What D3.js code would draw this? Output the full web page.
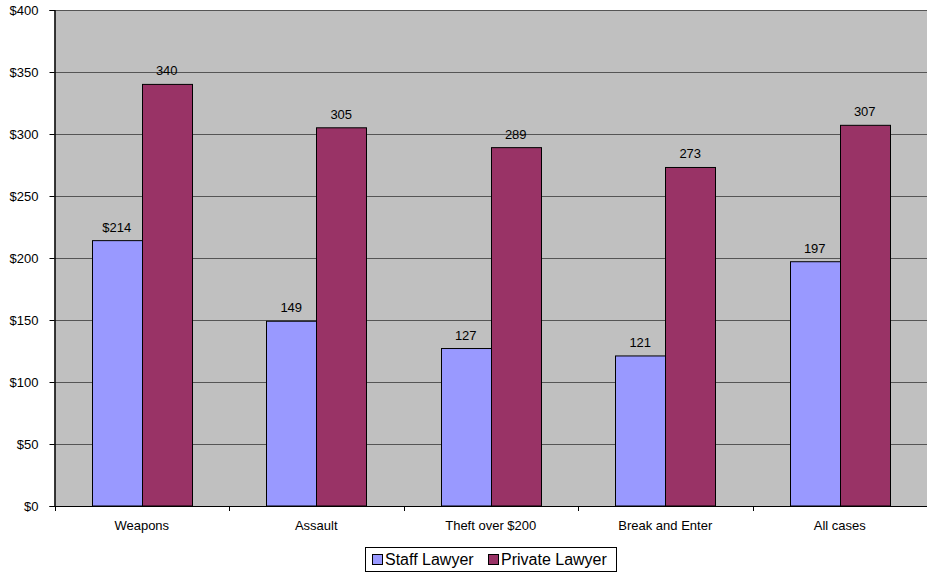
<!DOCTYPE html>
<html>
<head>
<meta charset="utf-8">
<script src="https://cdn.jsdelivr.net/npm/d3@7"></script>
<style>
  html, body { margin: 0; padding: 0; background: #fff; }
  svg { display: block; font-family: "Liberation Sans", Arial, sans-serif; }
</style>
</head>
<body>
<svg id="chart" width="927" height="573"></svg>
<script>
// Average cost per case by offence type
const categories = ["Weapons", "Assault", "Theft over $200", "Break and Enter", "All cases"];
const staffLawyer = [214, 149, 127, 121, 197];
const privateLawyer = [340, 305, 289, 273, 307];
const staffLabels = ["$214", "149", "127", "121", "197"];
const privateLabels = ["340", "305", "289", "273", "307"];
const yTicks = [0, 50, 100, 150, 200, 250, 300, 350, 400];
const seriesNames = ["Staff Lawyer", "Private Lawyer"];
const seriesColors = ["#9999ff", "#993366"];

const svg = d3.select("#chart");
const plot = { left: 54.5, right: 927, top: 10, bottom: 506 };

const x = d3.scaleBand().domain(categories).range([plot.left, plot.right]).paddingInner(0).paddingOuter(0);
const y = d3.scaleLinear().domain([0, 400]).range([plot.bottom, plot.top]);
const barW = 50;

// plot background
svg.append("rect")
  .attr("x", plot.left).attr("y", plot.top)
  .attr("width", plot.right - plot.left).attr("height", plot.bottom - plot.top)
  .attr("fill", "#c0c0c0");

// gridlines
svg.append("g").selectAll("line").data(yTicks.filter(d => d > 0)).join("line")
  .attr("x1", plot.left).attr("x2", plot.right)
  .attr("y1", d => Math.round(y(d)) + 0.5).attr("y2", d => Math.round(y(d)) + 0.5)
  .attr("stroke", "#555").attr("stroke-width", 1);

// y axis
const yAxis = d3.axisLeft(y).tickValues(yTicks).tickFormat(d => "$" + d).tickSizeOuter(0).tickSize(5).tickPadding(11);
const gy = svg.append("g").attr("transform", `translate(${plot.left},0)`).call(yAxis);
gy.select(".domain").attr("stroke", "#000");
gy.selectAll(".tick line").attr("stroke", "#000");
gy.selectAll(".tick text").attr("font-size", 13).attr("fill", "#000")
  .attr("font-family", "Liberation Sans, Arial, sans-serif");

// bars
const groups = categories.map((c, i) => ({ c, s: staffLawyer[i], p: privateLawyer[i], sl: staffLabels[i], pl: privateLabels[i] }));
const g = svg.append("g");
groups.forEach(d => {
  const cx = x(d.c) + x.bandwidth() / 2;
  const bars = [
    { v: d.s, lab: d.sl, x0: cx - barW, color: seriesColors[0] },
    { v: d.p, lab: d.pl, x0: cx, color: seriesColors[1] }
  ];
  bars.forEach(b => {
    g.append("rect")
      .attr("x", Math.round(b.x0) + 0.5).attr("y", y(b.v))
      .attr("width", barW).attr("height", plot.bottom - y(b.v))
      .attr("fill", b.color).attr("stroke", "#000").attr("stroke-width", 1);
    g.append("text")
      .attr("x", b.x0 + barW / 2).attr("y", y(b.v) - 9)
      .attr("text-anchor", "middle").attr("font-size", 13).attr("fill", "#000")
      .text(b.lab);
  });
});

// x axis
const xAxis = d3.axisBottom(x).tickSize(0).tickPadding(15);
const gx = svg.append("g").attr("transform", `translate(0,${plot.bottom})`).call(xAxis);
gx.select(".domain").remove();
gx.selectAll(".tick text").attr("font-size", 13).attr("fill", "#000")
  .attr("font-family", "Liberation Sans, Arial, sans-serif");
svg.append("line").attr("x1", plot.left).attr("x2", plot.right)
  .attr("y1", plot.bottom + 0.5).attr("y2", plot.bottom + 0.5).attr("stroke", "#000");
svg.append("line").attr("x1", plot.left + 0.5).attr("x2", plot.left + 0.5)
  .attr("y1", plot.top).attr("y2", plot.bottom).attr("stroke", "#000");
// category separator ticks
const sepX = categories.map(c => x(c)).concat([plot.right]);
svg.append("g").selectAll("line").data(sepX).join("line")
  .attr("x1", d => Math.round(d) + 0.5).attr("x2", d => Math.round(d) + 0.5)
  .attr("y1", plot.bottom).attr("y2", plot.bottom + 5).attr("stroke", "#000");

// legend
const lg = svg.append("g").attr("transform", "translate(365,547)");
lg.append("rect").attr("x", 0.5).attr("y", 0.5).attr("width", 251).attr("height", 24)
  .attr("fill", "#fff").attr("stroke", "#000");
const legendItems = [
  { name: seriesNames[0], color: seriesColors[0], x: 7 },
  { name: seriesNames[1], color: seriesColors[1], x: 123 }
];
legendItems.forEach(it => {
  lg.append("rect").attr("x", it.x + 0.5).attr("y", 7.5).attr("width", 10).attr("height", 10)
    .attr("fill", it.color).attr("stroke", "#000");
  lg.append("text").attr("x", it.x + 13).attr("y", 18)
    .attr("font-size", 16).attr("fill", "#000").text(it.name);
});
</script>
</body>
</html>
